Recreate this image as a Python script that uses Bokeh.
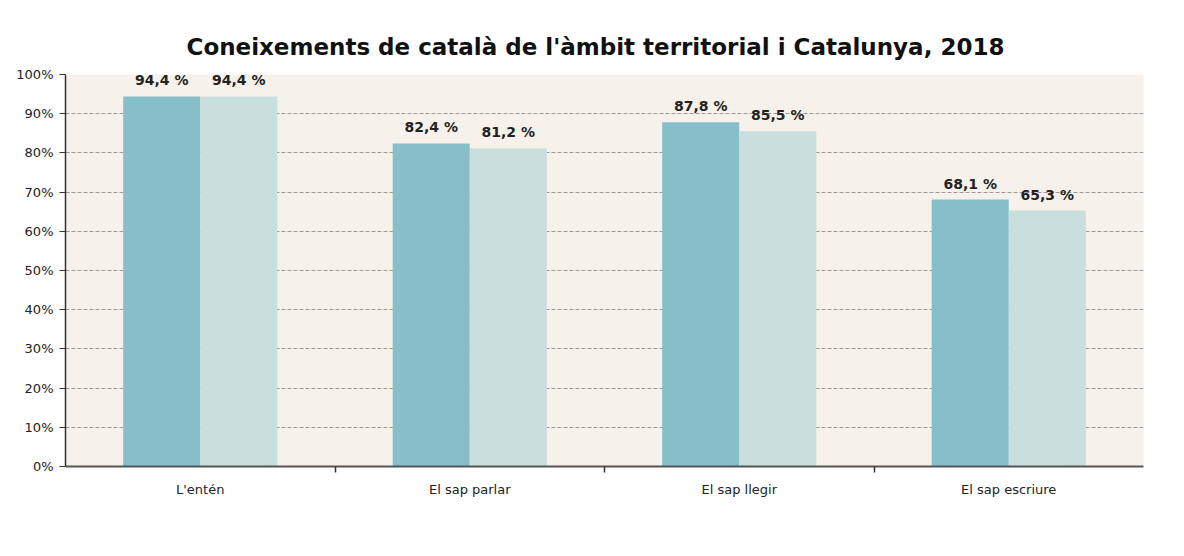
import math
from bokeh.plotting import figure
from bokeh.models import (ColumnDataSource, Range1d, FixedTicker, PrintfTickFormatter,
                          LabelSet, Label, Legend, LegendItem, BoxAnnotation)
from bokeh.core.properties import value
from bokeh.embed import file_html
from bokeh.resources import INLINE

# ---- data ----
categories = ["L'entén", "El sap parlar", "El sap llegir", "El sap escriure"]
camp_tarragona = [94.4, 82.4, 87.8, 68.1]
catalunya = [94.4, 81.2, 85.5, 65.3]
series_names = ["el Camp de Tarragona", "Catalunya"]
y_ticks = [0, 10, 20, 30, 40, 50, 60, 70, 80, 90, 100]

title_text = "Coneixements de català de l'àmbit territorial i Catalunya, 2018"
source_text = "- Informes lingüístics municipals. SPL -"

# ---- style ----
DARK = "#86BFCA"
LIGHT = "#C9DFDD"
BG = "#F6F1EB"
FONT = "DejaVu Sans"
BAR_W = 0.286
OFF = 0.143

def fmt(v):
    return ("%.1f" % v).replace(".", ",") + " %"

centers = [i + 0.5 for i in range(len(categories))]
src1 = ColumnDataSource(dict(x=[c - OFF for c in centers], top=camp_tarragona,
                             lab=[fmt(v) for v in camp_tarragona]))
src2 = ColumnDataSource(dict(x=[c + OFF for c in centers], top=catalunya,
                             lab=[fmt(v) for v in catalunya]))

p = figure(width=1184, height=556, output_backend="svg", toolbar_location=None,
           x_range=Range1d(0, len(categories)), y_range=Range1d(0, 100),
           min_border_left=65, min_border_right=41, min_border_top=74, min_border_bottom=90)
p.background_fill_color = BG
p.border_fill_color = "white"
p.outline_line_color = None

p.title.text = title_text
p.title.text_font = FONT
p.title.text_font_size = "23px"
p.title.text_font_style = "bold"
p.title.text_color = "#111111"
p.title.align = "left"
p.title.offset = 121
p.title.vertical_align = "bottom"
p.title.standoff = 30

r1 = p.vbar(x="x", top="top", width=BAR_W, source=src1, fill_color=DARK, line_color=None)
r2 = p.vbar(x="x", top="top", width=BAR_W, source=src2, fill_color=LIGHT, line_color=None)

for s in (src1, src2):
    p.add_layout(LabelSet(x="x", y="top", text="lab", source=s, y_offset=8,
                          text_align="center", text_baseline="bottom",
                          text_font=value(FONT), text_font_size="14px",
                          text_font_style="bold", text_color="#222222"))

# grid
p.xgrid.grid_line_color = None
p.ygrid.ticker = FixedTicker(ticks=y_ticks)
p.ygrid.grid_line_color = "#9A9A9A"
p.ygrid.grid_line_dash = "4 2"
p.ygrid.grid_line_width = 1

# y axis
p.yaxis.ticker = FixedTicker(ticks=y_ticks)
p.yaxis.formatter = PrintfTickFormatter(format="%d%%")
p.yaxis.axis_line_color = "#333333"
p.yaxis.axis_line_width = 1.5
p.yaxis.major_tick_line_color = "#333333"
p.yaxis.major_tick_in = 0
p.yaxis.major_tick_out = 6
p.yaxis.minor_tick_line_color = None
p.yaxis.major_label_text_font = FONT
p.yaxis.major_label_text_font_size = "13px"
p.yaxis.major_label_text_color = "#222222"
p.yaxis.major_label_standoff = 6

# x axis
p.xaxis.ticker = FixedTicker(ticks=centers, minor_ticks=[1, 2, 3])
p.xaxis.major_label_overrides = {c: n for c, n in zip(centers, categories)}
p.xaxis.axis_line_color = "#555555"
p.xaxis.axis_line_width = 2
p.xaxis.major_tick_line_color = None
p.xaxis.minor_tick_line_color = "#333333"
p.xaxis.minor_tick_line_width = 1.5
p.xaxis.minor_tick_in = 0
p.xaxis.minor_tick_out = 6
p.xaxis.major_label_text_font = FONT
p.xaxis.major_label_text_font_size = "13px"
p.xaxis.major_label_text_color = "#222222"
p.xaxis.major_label_standoff = 9

# vertical source note (frame-relative screen units)
p.add_layout(Label(x=1106, y=256, x_units="screen", y_units="screen",
                   text=source_text, angle=math.pi / 2, text_align="center",
                   text_baseline="middle", text_font=FONT, text_font_size="12px",
                   text_font_style="italic", text_color="#222222"))

# legend box below the chart (frame-relative screen units)
p.add_layout(BoxAnnotation(left=228, right=895, top=-59, bottom=-100,
                           left_units="screen", right_units="screen",
                           top_units="screen", bottom_units="screen",
                           fill_color=BG, fill_alpha=1, line_color=None))

legend = Legend(items=[LegendItem(label=series_names[0], renderers=[r1]),
                       LegendItem(label=series_names[1], renderers=[r2])],
                orientation="horizontal", location=(335, -88),
                glyph_width=12, glyph_height=14, label_standoff=6,
                label_text_font=FONT, label_text_font_size="18px",
                label_text_font_style="bold", label_text_color="#111111",
                label_width=222, spacing=102, padding=0, margin=0,
                border_line_color=None, background_fill_alpha=0)
p.add_layout(legend)

open("out.html", "w").write(file_html(p, INLINE))
